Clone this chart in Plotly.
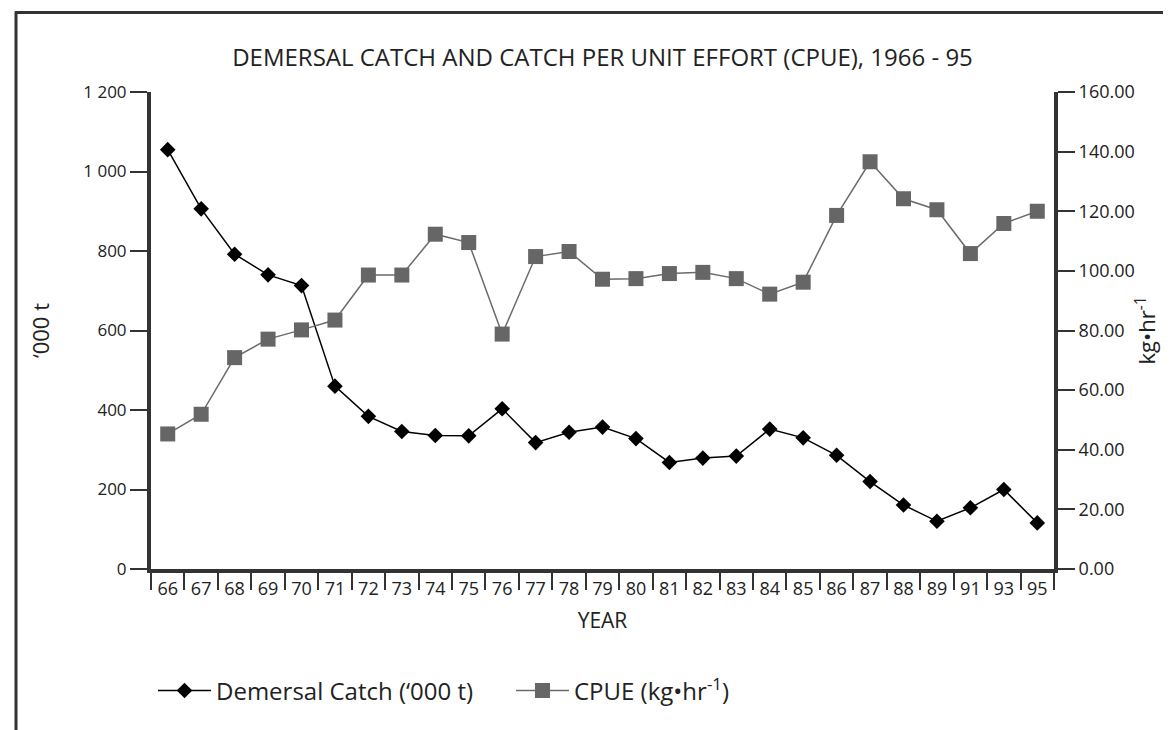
import plotly.graph_objects as go

years = ["66", "67", "68", "69", "70", "71", "72", "73", "74", "75", "76", "77", "78",
         "79", "80", "81", "82", "83", "84", "85", "86", "87", "88", "89", "91", "93", "95"]
catch = [1055, 906, 792, 740, 713, 460, 384, 346, 336, 335, 403, 318, 344,
         357, 328, 268, 279, 284, 352, 330, 286, 220, 161, 120, 154, 200, 116]
cpue = [45.3, 51.9, 70.9, 77.1, 80.2, 83.5, 98.6, 98.6, 112.3, 109.5, 78.8, 104.8, 106.5,
        97.2, 97.4, 99.1, 99.5, 97.4, 92.2, 96.2, 118.6, 136.6, 124.2, 120.5, 105.8, 115.9, 120.0]
left_ticks = [0, 200, 400, 600, 800, 1000, 1200]
left_ticktext = ["0", "200", "400", "600", "800", "1 000", "1 200"]
right_ticks = [0, 20, 40, 60, 80, 100, 120, 140, 160]

W, H = 1171, 730
L, R, T, B = 143, 1046, 83.5, 561
FONT = "Open Sans"
AX = "#333333"

def px(x):
    return (x - L) / (R - L)

def py(y):
    return (B - y) / (B - T)

fig = go.Figure()
fig.add_trace(go.Scatter(
    x=years, y=catch, name="Demersal Catch (\u2018000 t)", mode="lines+markers",
    line=dict(color="black", width=1.5),
    marker=dict(symbol="diamond", size=12, color="black"),
))
fig.add_trace(go.Scatter(
    x=years, y=cpue, name="CPUE (kg\u2022hr<sup>-1</sup>)", mode="lines+markers", yaxis="y2",
    line=dict(color="#6b6b6b", width=1.5),
    marker=dict(symbol="square", size=15, color="#666666"),
))

fig.update_layout(
    width=W, height=H,
    margin=dict(l=L, r=W - R, t=T, b=H - B, autoexpand=False),
    paper_bgcolor="white", plot_bgcolor="white",
    font=dict(family=FONT, size=17, color="#222222"),
    title=dict(text="DEMERSAL CATCH AND CATCH PER UNIT EFFORT (CPUE), 1966 - 95",
               x=0.5, xref="paper", xanchor="center", y=1 - 50 / H, yref="container",
               yanchor="middle", font=dict(family=FONT, size=24, color="#222222")),
    xaxis=dict(type="category", range=[-0.5, len(years) - 0.5], tickson="boundaries",
               ticks="outside", ticklen=17, tickwidth=1.5, tickcolor=AX, showline=True,
               linewidth=4, linecolor=AX, showgrid=False, zeroline=False,
               tickfont=dict(size=18), automargin=False,
               title=dict(text="YEAR", standoff=16, font=dict(size=21))),
    yaxis=dict(range=[0, 1200], tickvals=left_ticks, ticktext=left_ticktext,
               ticks="outside", ticklen=17, tickwidth=1.5, tickcolor=AX,
               showline=True, linewidth=4, linecolor=AX, showgrid=False, zeroline=False,
               tickfont=dict(size=17), automargin=False,
               title=dict(text="\u2018000 t", standoff=29, font=dict(size=22))),
    yaxis2=dict(range=[0, 160], tickvals=right_ticks, tickformat=".2f", overlaying="y",
                side="right", ticks="outside", ticklen=17, tickwidth=1.5, tickcolor=AX,
                showline=True, linewidth=4, linecolor=AX, showgrid=False, zeroline=False,
                tickfont=dict(size=18), automargin=False,
                title=dict(text="kg\u2022hr<sup>-1</sup>", standoff=7, font=dict(size=22))),
    legend=dict(orientation="h", x=px(145), xanchor="left", y=py(683), yanchor="middle",
                font=dict(size=24), itemwidth=53, bgcolor="rgba(0,0,0,0)",
                entrywidth=290, entrywidthmode="pixels", tracegroupgap=0),
    showlegend=True,
)

# frame border (top and left edges of the cropped panel)
fig.add_shape(type="line", xref="paper", yref="paper", x0=px(7), x1=px(1171),
              y0=py(4), y1=py(4), line=dict(color="#333333", width=3))
fig.add_shape(type="line", xref="paper", yref="paper", x0=px(8), x1=px(8),
              y0=py(3), y1=py(731), line=dict(color="#333333", width=3))

fig.write_html("out.html")
